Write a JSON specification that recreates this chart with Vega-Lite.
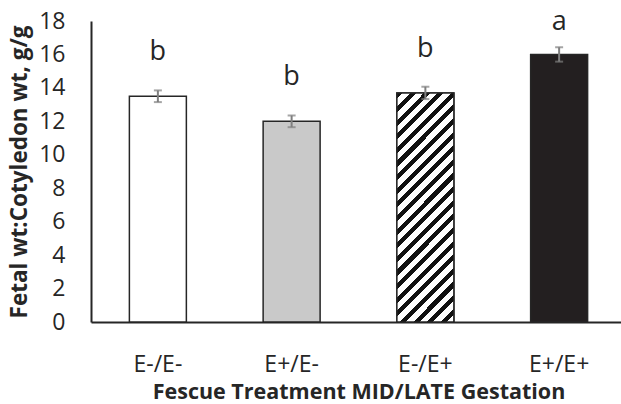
{
  "$schema": "https://vega.github.io/schema/vega-lite/v6.json",
  "autosize": {"type": "none"},
  "width": 530,
  "height": 301,
  "padding": {"left": 91, "top": 21, "right": 0, "bottom": 82},
  "background": "white",
  "config": {
    "view": {"stroke": null},
    "font": "Open Sans",
    "axis": {
      "domainColor": "#262626",
      "domainWidth": 2,
      "grid": false,
      "ticks": false,
      "labelFont": "Open Sans",
      "labelFontSize": 23,
      "labelColor": "#262626",
      "titleFont": "Open Sans",
      "titleFontWeight": "bold",
      "titleColor": "#262626"
    }
  },
  "data": {
    "values": [
      {"treatment": "E-/E-", "mean": 13.5, "lo": 13.15, "hi": 13.85, "letter": "b"},
      {"treatment": "E+/E-", "mean": 12.0, "lo": 11.65, "hi": 12.35, "letter": "b"},
      {"treatment": "E-/E+", "mean": 13.7, "lo": 13.33, "hi": 14.07, "letter": "b"},
      {"treatment": "E+/E+", "mean": 16.0, "lo": 15.57, "hi": 16.43, "letter": "a"}
    ]
  },
  "encoding": {
    "x": {
      "field": "treatment",
      "type": "nominal",
      "sort": ["E-/E-", "E+/E-", "E-/E+", "E+/E+"],
      "scale": {"range": [0, 535], "paddingInner": 0.574, "paddingOuter": 0.287},
      "axis": {"title": "Fescue Treatment MID/LATE Gestation", "titleFontSize": 21.5, "labelAngle": 0, "labelPadding": 31, "titlePadding": 5}
    }
  },
  "layer": [
    {
      "mark": {"type": "bar", "stroke": "#262626", "strokeWidth": 1.5},
      "encoding": {
        "y": {
          "field": "mean",
          "type": "quantitative",
          "scale": {"domain": [0, 18], "nice": false},
          "axis": {"title": "Fetal wt:Cotyledon wt, g/g", "titleFontSize": 22.5, "values": [0, 2, 4, 6, 8, 10, 12, 14, 16, 18], "labelOverlap": false, "labelPadding": 26, "titlePadding": 7}
        },
        "fill": {
          "field": "treatment",
          "type": "nominal",
          "scale": {"domain": ["E-/E-", "E+/E-", "E-/E+", "E+/E+"], "range": ["#ffffff", "#c9c9c9", "#ffffff", "#231f20"]},
          "legend": null
        }
      }
    },
    {
      "transform": [{"filter": "datum.treatment === 'E-/E+'"}],
      "mark": {
        "type": "bar",
        "stroke": "#262626",
        "strokeWidth": 1.5,
        "fill": {
          "gradient": "linear",
          "x1": 0, "y1": 0, "x2": 0.293, "y2": 1.176,
          "stops": [
            {"offset": 0, "color": "#111111"}, {"offset": 0.021429, "color": "#111111"}, {"offset": 0.021429, "color": "#ffffff"}, {"offset": 0.047619, "color": "#ffffff"},
            {"offset": 0.047619, "color": "#111111"}, {"offset": 0.069048, "color": "#111111"}, {"offset": 0.069048, "color": "#ffffff"}, {"offset": 0.095238, "color": "#ffffff"},
            {"offset": 0.095238, "color": "#111111"}, {"offset": 0.116667, "color": "#111111"}, {"offset": 0.116667, "color": "#ffffff"}, {"offset": 0.142857, "color": "#ffffff"},
            {"offset": 0.142857, "color": "#111111"}, {"offset": 0.164286, "color": "#111111"}, {"offset": 0.164286, "color": "#ffffff"}, {"offset": 0.190476, "color": "#ffffff"},
            {"offset": 0.190476, "color": "#111111"}, {"offset": 0.211905, "color": "#111111"}, {"offset": 0.211905, "color": "#ffffff"}, {"offset": 0.238095, "color": "#ffffff"},
            {"offset": 0.238095, "color": "#111111"}, {"offset": 0.259524, "color": "#111111"}, {"offset": 0.259524, "color": "#ffffff"}, {"offset": 0.285714, "color": "#ffffff"},
            {"offset": 0.285714, "color": "#111111"}, {"offset": 0.307143, "color": "#111111"}, {"offset": 0.307143, "color": "#ffffff"}, {"offset": 0.333333, "color": "#ffffff"},
            {"offset": 0.333333, "color": "#111111"}, {"offset": 0.354762, "color": "#111111"}, {"offset": 0.354762, "color": "#ffffff"}, {"offset": 0.380952, "color": "#ffffff"},
            {"offset": 0.380952, "color": "#111111"}, {"offset": 0.402381, "color": "#111111"}, {"offset": 0.402381, "color": "#ffffff"}, {"offset": 0.428571, "color": "#ffffff"},
            {"offset": 0.428571, "color": "#111111"}, {"offset": 0.45, "color": "#111111"}, {"offset": 0.45, "color": "#ffffff"}, {"offset": 0.47619, "color": "#ffffff"},
            {"offset": 0.47619, "color": "#111111"}, {"offset": 0.497619, "color": "#111111"}, {"offset": 0.497619, "color": "#ffffff"}, {"offset": 0.52381, "color": "#ffffff"},
            {"offset": 0.52381, "color": "#111111"}, {"offset": 0.545238, "color": "#111111"}, {"offset": 0.545238, "color": "#ffffff"}, {"offset": 0.571429, "color": "#ffffff"},
            {"offset": 0.571429, "color": "#111111"}, {"offset": 0.592857, "color": "#111111"}, {"offset": 0.592857, "color": "#ffffff"}, {"offset": 0.619048, "color": "#ffffff"},
            {"offset": 0.619048, "color": "#111111"}, {"offset": 0.640476, "color": "#111111"}, {"offset": 0.640476, "color": "#ffffff"}, {"offset": 0.666667, "color": "#ffffff"},
            {"offset": 0.666667, "color": "#111111"}, {"offset": 0.688095, "color": "#111111"}, {"offset": 0.688095, "color": "#ffffff"}, {"offset": 0.714286, "color": "#ffffff"},
            {"offset": 0.714286, "color": "#111111"}, {"offset": 0.735714, "color": "#111111"}, {"offset": 0.735714, "color": "#ffffff"}, {"offset": 0.761905, "color": "#ffffff"},
            {"offset": 0.761905, "color": "#111111"}, {"offset": 0.783333, "color": "#111111"}, {"offset": 0.783333, "color": "#ffffff"}, {"offset": 0.809524, "color": "#ffffff"},
            {"offset": 0.809524, "color": "#111111"}, {"offset": 0.830952, "color": "#111111"}, {"offset": 0.830952, "color": "#ffffff"}, {"offset": 0.857143, "color": "#ffffff"},
            {"offset": 0.857143, "color": "#111111"}, {"offset": 0.878571, "color": "#111111"}, {"offset": 0.878571, "color": "#ffffff"}, {"offset": 0.904762, "color": "#ffffff"},
            {"offset": 0.904762, "color": "#111111"}, {"offset": 0.92619, "color": "#111111"}, {"offset": 0.92619, "color": "#ffffff"}, {"offset": 0.952381, "color": "#ffffff"},
            {"offset": 0.952381, "color": "#111111"}, {"offset": 0.97381, "color": "#111111"}, {"offset": 0.97381, "color": "#ffffff"}, {"offset": 1, "color": "#ffffff"}
          ]
        }
      },
      "encoding": {"y": {"field": "mean", "type": "quantitative", "axis": {"title": "Fetal wt:Cotyledon wt, g/g", "titleFontSize": 22.5, "values": [0, 2, 4, 6, 8, 10, 12, 14, 16, 18], "labelOverlap": false, "labelPadding": 26, "titlePadding": 7}}}
    },
    {
      "mark": {"type": "rule", "color": "#7f7f7f", "strokeWidth": 2},
      "encoding": {
        "y": {"field": "lo", "type": "quantitative", "axis": {"title": "Fetal wt:Cotyledon wt, g/g", "titleFontSize": 22.5, "values": [0, 2, 4, 6, 8, 10, 12, 14, 16, 18], "labelOverlap": false, "labelPadding": 26, "titlePadding": 7}},
        "y2": {"field": "hi"}
      }
    },
    {
      "mark": {"type": "tick", "color": "#7f7f7f", "thickness": 2, "size": 8},
      "encoding": {"y": {"field": "lo", "type": "quantitative", "axis": {"title": "Fetal wt:Cotyledon wt, g/g", "titleFontSize": 22.5, "values": [0, 2, 4, 6, 8, 10, 12, 14, 16, 18], "labelOverlap": false, "labelPadding": 26, "titlePadding": 7}}}
    },
    {
      "mark": {"type": "tick", "color": "#7f7f7f", "thickness": 2, "size": 8},
      "encoding": {"y": {"field": "hi", "type": "quantitative", "axis": {"title": "Fetal wt:Cotyledon wt, g/g", "titleFontSize": 22.5, "values": [0, 2, 4, 6, 8, 10, 12, 14, 16, 18], "labelOverlap": false, "labelPadding": 26, "titlePadding": 7}}}
    },
    {
      "transform": [{"filter": "datum.letter === 'b'"}],
      "mark": {"type": "text", "font": "Open Sans", "fontSize": 27, "color": "#262626", "baseline": "alphabetic", "dy": -30},
      "encoding": {
        "y": {"field": "hi", "type": "quantitative", "axis": {"title": "Fetal wt:Cotyledon wt, g/g", "titleFontSize": 22.5, "values": [0, 2, 4, 6, 8, 10, 12, 14, 16, 18], "labelOverlap": false, "labelPadding": 26, "titlePadding": 7}},
        "text": {"field": "letter"}
      }
    },
    {
      "transform": [{"filter": "datum.letter === 'a'"}],
      "mark": {"type": "text", "font": "Open Sans", "fontSize": 27, "color": "#262626", "baseline": "alphabetic", "dy": -17},
      "encoding": {
        "y": {"field": "hi", "type": "quantitative", "axis": {"title": "Fetal wt:Cotyledon wt, g/g", "titleFontSize": 22.5, "values": [0, 2, 4, 6, 8, 10, 12, 14, 16, 18], "labelOverlap": false, "labelPadding": 26, "titlePadding": 7}},
        "text": {"field": "letter"}
      }
    }
  ]
}
